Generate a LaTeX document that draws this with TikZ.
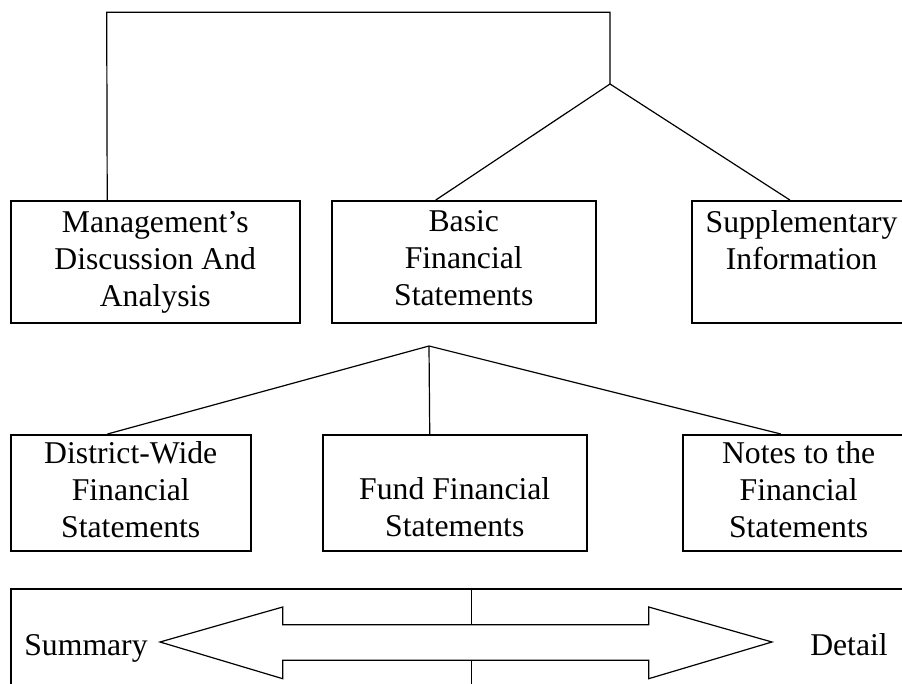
\documentclass[tikz,border=0pt]{standalone}
\usepackage{fontspec}
\setmainfont{Liberation Serif}
\usetikzlibrary{calc}

\begin{document}
\begin{tikzpicture}[x=1pt,y=-1pt,
		box/.style={draw,line width=1.8pt,inner sep=0pt,align=center,anchor=north west,font=\fontsize{31.7}{37}\selectfont,execute at end node={\vphantom{y}}},
		link/.style={line width=1.2pt},
		lbl/.style={anchor=base,inner sep=0pt,font=\fontsize{31.7}{37}\selectfont}]
			\useasboundingbox (0,0) rectangle (902,684);
			\clip (0,0) rectangle (902,684);
			\node[box,minimum width=289.3,minimum height=122] (mda) at (9.7,200) {Management’s\\Discussion And\\Analysis};
			\node[box,minimum width=264.3,minimum height=122] (bfs) at (330.7,200) {Basic\\Financial\\Statements};
			\node[box,minimum width=220,minimum height=122] (supp) at (690.7,200) {Supplementary\\Information\\\vphantom{F}};
			\node[box,minimum width=240.3,minimum height=116] (dw) at (9.7,434) {District-Wide\\Financial\\Statements};
			\node[box,minimum width=264.3,minimum height=116] (fund) at (321.7,434) {\vphantom{F}\\Fund Financial\\Statements};
			\node[box,minimum width=232,minimum height=116] (notes) at (681.7,434) {Notes to the\\Financial\\Statements};
			\node[box,minimum width=915,minimum height=120] (scale) at (9.7,587.7) {};
			\coordinate (topL) at (106.7,12.3);
			\coordinate (topR) at (610,12.3);
			\coordinate (fork1) at (610,84);
			\coordinate (fork2) at (429,346);
			\coordinate (mid) at (471.7,642);
			\draw[link] ($(mda.north west)!0.335!(mda.north east)$) -- (topL) -- (topR) -- (fork1);
			\draw[link] ($(bfs.north west)!0.395!(bfs.north east)$) -- (fork1) -- ($(supp.north west)!0.447!(supp.north east)$);
			\draw[link] ($(dw.north west)!0.404!(dw.north east)$) -- (fork2) -- ($(notes.north west)!0.424!(notes.north east)$);
			\draw[link] (fork2) -- ($(fund.north west)!0.406!(fund.north east)$);
			\draw[link] (160,642) coordinate (tipL) -- (282.7,607) -- (282.7,624.7) coordinate (shaftT) -- (648.7,624.7) -- (648.7,607) -- (772,642) coordinate (tipR) -- (648.7,678.7) -- (648.7,660.3) -- (282.7,660.3) coordinate (shaftB) -- (282.7,678.7) -- cycle;
			\draw[link] (scale.north -| mid) -- (shaftT -| mid);
			\draw[link] (shaftB -| mid) -- (scale.south -| mid);
			\node[lbl] (sum) at (86,655) {Summary};
			\node[lbl] (det) at (849,655) {Detail};
		\end{tikzpicture}
\end{document}
